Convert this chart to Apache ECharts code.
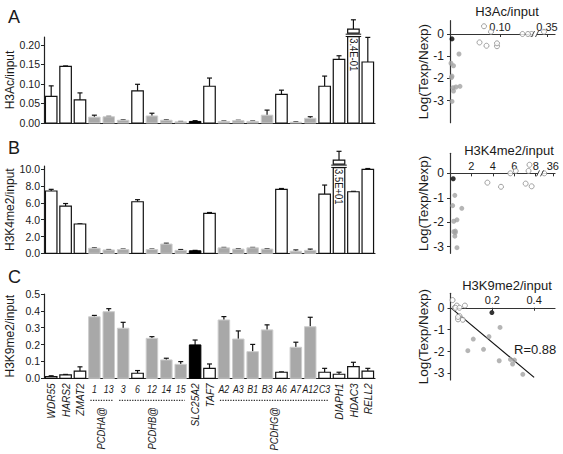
<!DOCTYPE html>
<html><head><meta charset="utf-8">
<script src="https://cdn.jsdelivr.net/npm/echarts@6/dist/echarts.min.js"></script>
<style>html,body{margin:0;padding:0;background:#fff}#c{width:563px;height:454px}</style>
</head><body><div id="c"></div>
<script>
// ---------- data ----------
const genes = ['WDR55','HARS2','ZMAT2','1','13','3','6','12','14','15','SLC25A2','TAF7','A2','A3','B1','B3','A6','A7','A12','C3','DIAPH1','HDAC3','RELL2'];
const geneKind = ['open','open','open','gray','gray','gray','open','gray','gray','gray','black','open','gray','gray','gray','gray','open','gray','gray','open','open','open','open'];
const clusterNames = ['PCDHA@','PCDHB@','PCDHG@'];
const clusterStart = [3, 5, 12];
const clusterEnd = [4, 9, 19];

const h3acValues = [0.068,0.145,0.059,0.015,0.016,0.007,0.082,0.018,0.007,0.003,0.004,0.094,0.004,0.006,0.004,0.020,0.073,0.002,0.012,0.094,0.163,0.34,0.156];
const h3acErrors = [0.027,0.001,0.018,0.005,0.001,0.001,0.017,0.007,0.001,0.001,0.002,0.021,0.001,0.001,0.001,0.013,0.011,0.001,0.004,0.026,0.009,0.024,0.063];
const h3k4Values = [7.42,5.63,3.49,0.60,0.40,0.45,6.14,0.45,1.10,0.35,0.30,4.76,0.65,0.50,0.65,0.50,7.62,0.25,0.35,7.06,35,7.33,10.0];
const h3k4Errors = [0.20,0.30,0.02,0.05,0.05,0.05,0.25,0.05,0.10,0.10,0.05,0.10,0.05,0.05,0.05,0.05,0.10,0.15,0.15,1.07,1.05,0.05,0.10];
const h3k9Values = [0.010,0.020,0.043,0.365,0.395,0.297,0.030,0.237,0.109,0.083,0.198,0.059,0.346,0.233,0.158,0.287,0.036,0.184,0.306,0.036,0.024,0.069,0.043];
const h3k9Errors = [0.005,0.003,0.025,0.008,0.018,0.035,0.016,0.010,0.010,0.016,0.029,0.026,0.020,0.048,0.043,0.030,0.002,0.030,0.056,0.023,0.012,0.026,0.016];
// Log(Texp/Nexp) per gene (null = not plotted)
const logRatio = [0.35,0.0,-0.38,null,null,-2.57,0.10,-0.90,-1.43,-1.96,-0.22,-0.55,-3.04,-2.42,-1.90,-2.36,-0.53,-1.32,-2.39,-0.42,0.0,0.10,0.0];

const h3acBroken = {index:21, shown:0.240, label:'3.4E-01'};
const h3k4Broken = {index:20, shown:11.1, label:'3.5E+01'};

const h3acTicks = [0,0.05,0.10,0.15,0.20];
const h3k4Ticks = [0,2,4,6,8,10];
const h3k9Ticks = [0,0.1,0.2,0.3,0.4,0.5];
const s1XTicks = [0.10,0.35];
const s1XLabels = ['0.10','0.35'];
const s2XTicks = [2,4,6,8,36];
const s2XLabels = ['2','4','6','8','36'];
const s3XTicks = [0.2,0.4];
const s3XLabels = ['0.2','0.4'];
const sYTicks = [0,-1,-2,-3];
const regLine = [[0.005,-0.03],[0.40,-3.18]];
const rText = 'R=0.88';

// axis-break mappings for the scatter x axes
function mapX1(v){ return v < 0.25 ? v : 0.194 + (v - 0.35) * 0.6; }
function mapX2(v){ return v < 20 ? v : 9.6 + (v - 36) * 0.8; }
function mapX3(v){ return v; }
const s1Break = 0.170, s2Break = 8.40;

// ---------- styles ----------
const FONT = "'Liberation Sans',Arial,Helvetica,sans-serif";
const TXT = '#1a1a1a';
const kindStyle = {
  open: {fill:'#ffffff', stroke:'#111111', lineWidth:1.2},
  gray: {fill:'#a8a8a8', stroke:'#cdcdcd', lineWidth:1},
  black:{fill:'#000000', stroke:'#000000', lineWidth:1}
};
const ptStyle = {
  open: {color:'#ffffff', borderColor:'#8a8a8a', borderWidth:1},
  gray: {color:'#a3a3a3', borderWidth:0},
  black:{color:'#000000', borderWidth:0}
};
const inCluster = genes.map((g,i)=>clusterStart.some((s,k)=>i>=s && i<=clusterEnd[k]));

function barSeries(xi, yi, values, errors, broken){
  return {
    type:'custom', xAxisIndex:xi, yAxisIndex:yi, clip:false, z:3, silent:true,
    data: values.map((v,i)=>[i, v, errors[i]]),
    renderItem(params, api){
      const i = params.dataIndex;
      const val = api.value(1), err = api.value(2);
      const isBroken = broken && i === broken.index;
      const shown = isBroken ? broken.shown : val;
      const p0 = api.coord([i, 0]);
      const p1 = api.coord([i, shown]);
      const pe = api.coord([i, shown + err]);
      const w = api.size([1, 0])[0] * 0.8;
      const x = p0[0] - w/2;
      const st = kindStyle[geneKind[i]];
      const ch = [];
      ch.push({type:'line', shape:{x1:p0[0], y1:p1[1], x2:p0[0], y2:pe[1]}, style:{stroke:'#111', lineWidth:1.2}});
      ch.push({type:'line', shape:{x1:p0[0]-2.5, y1:pe[1], x2:p0[0]+2.5, y2:pe[1]}, style:{stroke:'#111', lineWidth:1.2}});
      if (!isBroken){
        ch.push({type:'rect', shape:{x:x, y:p1[1], width:w, height:p0[1]-p1[1]}, style:st});
      } else {
        const t = p1[1];
        ch.push({type:'rect', shape:{x:x, y:t, width:w, height:4}, style:st});
        ch.push({type:'rect', shape:{x:x, y:t+7.5, width:w, height:p0[1]-t-7.5}, style:st});
        ch.push({type:'line', shape:{x1:x-2, y1:t+5, x2:x+w+2, y2:t+5}, style:{stroke:'#111', lineWidth:1}});
        ch.push({type:'line', shape:{x1:x-2, y1:t+7.3, x2:x+w+2, y2:t+7.3}, style:{stroke:'#111', lineWidth:1}});
        ch.push({type:'text', x:p0[0], y:t+9, rotation:-Math.PI/2, scaleX:0.9,
          style:{text:broken.label, fontSize:10.5, fontFamily:FONT, fill:TXT, align:'left', verticalAlign:'middle'}});
      }
      return {type:'group', children:ch};
    }
  };
}

function scatterSeries(xi, yi, xs, mapFn){
  const order = ['open','gray','black'];
  const data = [];
  order.forEach(k=>{
    xs.forEach((x,i)=>{
      if (geneKind[i] !== k || logRatio[i] === null) return;
      data.push({value:[mapFn(x), logRatio[i]], itemStyle:ptStyle[k]});
    });
  });
  return {type:'scatter', xAxisIndex:xi, yAxisIndex:yi, symbolSize:5, data:data, z:4, silent:true};
}

function breakSeries(xi, yi, bx){
  return {type:'custom', xAxisIndex:xi, yAxisIndex:yi, clip:false, z:6, silent:true, data:[[bx, 0]],
    renderItem(params, api){
      const p = api.coord([api.value(0), api.value(1)]);
      return {type:'group', children:[
        {type:'rect', shape:{x:p[0]-2, y:p[1]-1.5, width:4, height:3}, style:{fill:'#fff'}},
        {type:'line', shape:{x1:p[0]-3.5, y1:p[1]+3, x2:p[0]-0.5, y2:p[1]-3}, style:{stroke:'#444', lineWidth:1}},
        {type:'line', shape:{x1:p[0]+0.5, y1:p[1]+3, x2:p[0]+3.5, y2:p[1]-3}, style:{stroke:'#444', lineWidth:1}}
      ]};
    }};
}

function geneLabelSeries(xi, yi){
  return {type:'custom', xAxisIndex:xi, yAxisIndex:yi, clip:false, z:5, silent:true,
    data: genes.map((g,i)=>[i, 0]),
    renderItem(params, api){
      const i = params.dataIndex;
      const p = api.coord([api.value(0), 0]);
      if (inCluster[i]) {
        return {type:'text', x:p[0], y:p[1]+11, scaleX:0.8,
          style:{text:genes[i], fontSize:11, fontStyle:'italic', fontFamily:FONT, fill:TXT, align:'center', verticalAlign:'middle'}};
      }
      return {type:'text', x:p[0], y:p[1]+5, rotation:Math.PI/2, scaleX:0.92,
        style:{text:genes[i], fontSize:11, fontStyle:'italic', fontFamily:FONT, fill:TXT, align:'right', verticalAlign:'middle'}};
    }};
}

function clusterSeries(xi, yi){
  return {type:'custom', xAxisIndex:xi, yAxisIndex:yi, clip:false, z:5, silent:true,
    data: clusterNames.map((n,k)=>[clusterStart[k], clusterEnd[k], 0]),
    renderItem(params, api){
      const k = params.dataIndex;
      const a = api.coord([api.value(0), 0]);
      const b = api.coord([api.value(1), 0]);
      const h = 4;
      return {type:'group', children:[
        {type:'line', shape:{x1:a[0]-h, y1:a[1]+22, x2:b[0]+h, y2:a[1]+22},
          style:{stroke:'#333', lineWidth:1.3, lineDash:[1.3,1.3]}},
        {type:'text', x:(a[0]+b[0])/2, y:a[1]+29, rotation:Math.PI/2, scaleX:0.85,
          style:{text:clusterNames[k], fontSize:11, fontStyle:'italic', fontFamily:FONT, fill:TXT, align:'right', verticalAlign:'middle'}}
      ]};
    }};
}

function barYAxis(gi, max, ticks, dec, name){
  return {gridIndex:gi, type:'value', min:0, max:max,
    axisLine:{show:true, lineStyle:{color:'#222', width:1.2}},
    axisTick:{show:true, customValues:ticks, length:3, lineStyle:{color:'#222'}},
    axisLabel:{customValues:ticks, formatter:v=>Number(v).toFixed(dec), fontSize:10.5, fontFamily:FONT, color:TXT, margin:4},
    splitLine:{show:false},
    name:name, nameLocation:'middle', nameGap:28, nameMoveOverlap:false,
    nameTextStyle:{fontSize:12, fontFamily:FONT, color:TXT}};
}
function barXAxis(gi){
  return {gridIndex:gi, type:'category', data:genes,
    axisLine:{show:true, lineStyle:{color:'#222', width:1.2}}, axisTick:{show:false}, axisLabel:{show:false}, splitLine:{show:false}};
}
function sXAxis(gi, max, ticks, labels, mapFn, drop){
  const disp = ticks.map(mapFn);
  return {gridIndex:gi, type:'value', min:0, max:max, position:'top', offset:-drop,
    axisLine:{show:true, onZero:false, lineStyle:{color:'#333', width:1.2}},
    axisTick:{show:true, customValues:disp, length:3, inside:true, lineStyle:{color:'#333'}},
    axisLabel:{customValues:disp, fontSize:11, fontFamily:FONT, color:TXT, margin:2,
      formatter:v=>{let b=0; disp.forEach((d,k)=>{ if (Math.abs(d-v) < Math.abs(disp[b]-v)) b=k; }); return labels[b];}},
    splitLine:{show:false}};
}
function sYAxis(gi, min, max){
  return {gridIndex:gi, type:'value', min:min, max:max,
    axisLine:{show:true, onZero:false, lineStyle:{color:'#333', width:1.2}},
    axisTick:{show:true, customValues:sYTicks, length:3, lineStyle:{color:'#333'}},
    axisLabel:{customValues:sYTicks, fontSize:12, fontFamily:FONT, color:TXT, margin:6},
    splitLine:{show:false},
    name:'Log(Texp/Nexp)', nameLocation:'middle', nameGap:20, nameMoveOverlap:false,
    nameTextStyle:{fontSize:13.5, fontFamily:FONT, color:TXT}};
}

const sGrids = [
  {left:450, top:20.7, width:105, height:102, ymin:-4, ymax:0.6},
  {left:450, top:153.3, width:105, height:100, ymin:-3.27, ymax:0.82},
  {left:450.5, top:293.3, width:104.5, height:86.7, ymin:-3.3, ymax:0.66}
];
const drop = sGrids.map(g => g.height * g.ymax / (g.ymax - g.ymin));

const option = {
  animation:false,
  backgroundColor:'#ffffff',
  textStyle:{fontFamily:FONT},
  title:[
    {text:'A', left:3, top:3, textStyle:{fontSize:18, fontWeight:'normal', fontFamily:FONT, color:TXT}},
    {text:'B', left:3, top:134, textStyle:{fontSize:18, fontWeight:'normal', fontFamily:FONT, color:TXT}},
    {text:'C', left:3, top:263, textStyle:{fontSize:18, fontWeight:'normal', fontFamily:FONT, color:TXT}},
    {text:'H3Ac/input', left:502, top:0, textAlign:'center', textStyle:{fontSize:13, fontWeight:'normal', fontFamily:FONT, color:TXT}},
    {text:'H3K4me2/input', left:504, top:139, textAlign:'center', textStyle:{fontSize:13, fontWeight:'normal', fontFamily:FONT, color:TXT}},
    {text:'H3K9me2/input', left:502, top:274, textAlign:'center', textStyle:{fontSize:13, fontWeight:'normal', fontFamily:FONT, color:TXT}},
    {text:rText, left:509, top:338, textStyle:{fontSize:13, fontWeight:'normal', fontFamily:FONT, color:TXT}}
  ],
  grid:[
    {left:44, top:37, width:331, height:86, outerBoundsMode:'none', containLabel:false},
    {left:44, top:166, width:331, height:87.3, outerBoundsMode:'none', containLabel:false},
    {left:44, top:294, width:331, height:84.3, outerBoundsMode:'none', containLabel:false}
  ].concat(sGrids.map(g=>({left:g.left, top:g.top, width:g.width, height:g.height, outerBoundsMode:'none', containLabel:false}))),
  xAxis:[
    barXAxis(0), barXAxis(1), barXAxis(2),
    sXAxis(3, 0.21, s1XTicks, s1XLabels, mapX1, drop[0]),
    sXAxis(4, 9.8, s2XTicks, s2XLabels, mapX2, drop[1]),
    sXAxis(5, 0.5, s3XTicks, s3XLabels, mapX3, drop[2])
  ],
  yAxis:[
    barYAxis(0, 0.22, h3acTicks, 2, 'H3Ac/input'),
    barYAxis(1, 10.4, h3k4Ticks, 1, 'H3K4me2/input'),
    barYAxis(2, 0.5, h3k9Ticks, 1, 'H3K9me2/input'),
    sYAxis(3, sGrids[0].ymin, sGrids[0].ymax),
    sYAxis(4, sGrids[1].ymin, sGrids[1].ymax),
    sYAxis(5, sGrids[2].ymin, sGrids[2].ymax)
  ],
  series:[
    barSeries(0, 0, h3acValues, h3acErrors, h3acBroken),
    barSeries(1, 1, h3k4Values, h3k4Errors, h3k4Broken),
    barSeries(2, 2, h3k9Values, h3k9Errors, null),
    geneLabelSeries(2, 2),
    clusterSeries(2, 2),
    scatterSeries(3, 3, h3acValues, mapX1),
    scatterSeries(4, 4, h3k4Values, mapX2),
    scatterSeries(5, 5, h3k9Values, mapX3),
    breakSeries(3, 3, s1Break),
    breakSeries(4, 4, s2Break),
    {type:'line', xAxisIndex:5, yAxisIndex:5, data:regLine, symbol:'none', z:3, silent:true,
      lineStyle:{color:'#111', width:1.2}}
  ]
};
const chart = echarts.init(document.getElementById('c'), null, {renderer:'svg'});
chart.setOption(option);
</script></body></html>
